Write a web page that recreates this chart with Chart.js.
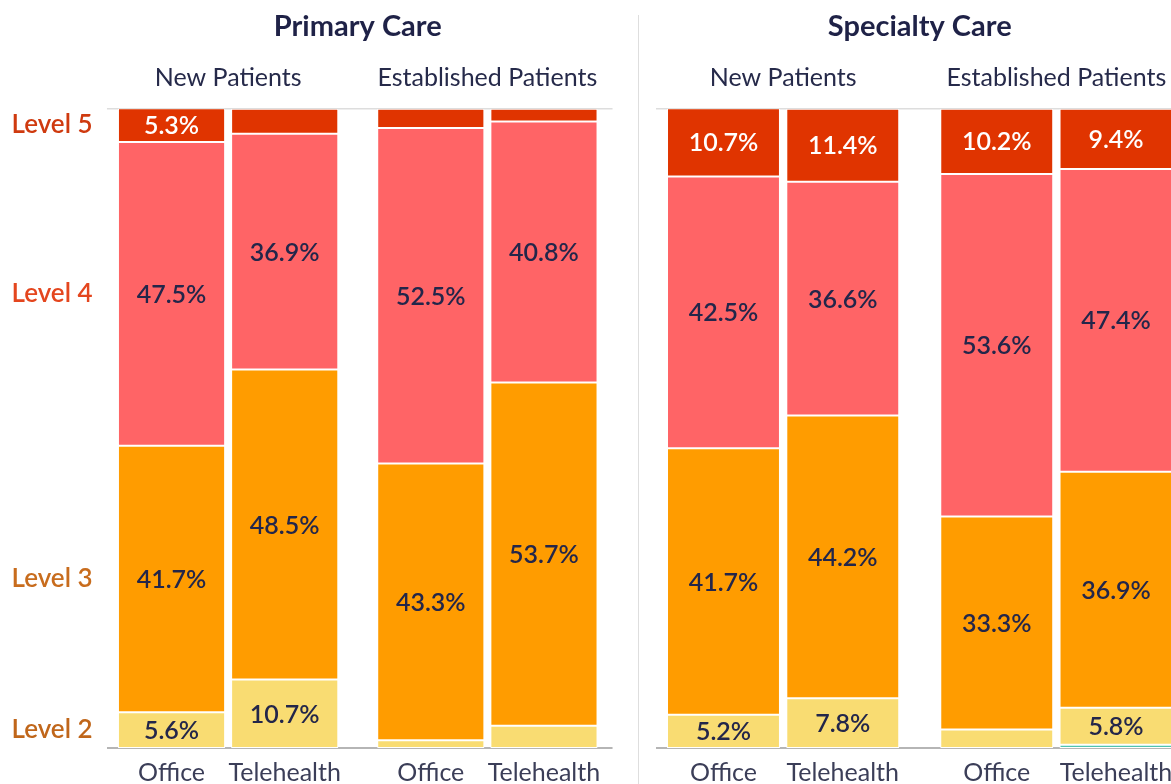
<!DOCTYPE html>
<html>
<head>
<meta charset="utf-8">
<title>E/M level mix: Primary vs Specialty Care</title>
<script src="https://cdn.jsdelivr.net/npm/chart.js@4.4.1/dist/chart.umd.min.js"></script>
<style>
  html, body { margin: 0; padding: 0; background: #fff; }
  body { width: 1171px; height: 784px; position: relative; overflow: hidden; }
  .panel { position: absolute; top: 0; height: 784px; }
  #primaryWrap { left: 0; width: 617px; }
  #specialtyWrap { left: 640px; width: 553px; }
  #divider { position: absolute; left: 638px; top: 15px; width: 1px; height: 769px; background: #dedede; }
</style>
</head>
<body>
<div id="primaryWrap" class="panel"><canvas id="primaryChart"></canvas></div>
<div id="divider"></div>
<div id="specialtyWrap" class="panel"><canvas id="specialtyChart"></canvas></div>
<script>
// values per bar, bottom to top: Level 1 .. Level 5 (percent)
const levelNames = ['Level 1', 'Level 2', 'Level 3', 'Level 4', 'Level 5'];
const groupNames = ['New Patients', 'Established Patients'];
const visitModes = ['Office', 'Telehealth'];

const primaryNewOffice = [0, 5.6, 41.7, 47.5, 5.3];
const primaryNewTele = [0, 10.7, 48.5, 36.9, 3.9];
const primaryEstOffice = [0, 1.2, 43.3, 52.5, 3.0];
const primaryEstTele = [0, 3.5, 53.7, 40.8, 2.0];

const specialtyNewOffice = [0, 5.2, 41.7, 42.5, 10.7];
const specialtyNewTele = [0, 7.8, 44.2, 36.6, 11.4];
const specialtyEstOffice = [0, 2.9, 33.3, 53.6, 10.2];
const specialtyEstTele = [0.5, 5.8, 36.9, 47.4, 9.4];

const levelColors = ['#4fc4b0', '#f9dc72', '#ff9c00', '#ff6466', '#e03400'];
const levelTextColors = ['#2a9d8f', '#c0661a', '#c86c1d', '#e4461e', '#cf3a0f'];
const darkText = '#23264a';

Chart.defaults.font.family = 'Lato, "Open Sans", sans-serif';
Chart.defaults.color = darkText;

function buildDatasets(newOffice, newTele, estOffice, estTele) {
    const sets = [];
    [[newOffice, estOffice, 'Office'], [newTele, estTele, 'Telehealth']].forEach(([n, e, mode]) => {
        levelNames.forEach((name, i) => {
            sets.push({
                label: name,
                stack: mode,
                data: [n[i], e[i]],
                backgroundColor: levelColors[i],
                borderColor: '#ffffff',
                borderWidth: 1,
                borderSkipped: false,
                categoryPercentage: 0.873,
                barPercentage: 0.947
            });
        });
    });
    return sets;
}

// percentage labels inside the segments
const segmentLabels = {
    id: 'segmentLabels',
    afterDatasetsDraw(chart) {
        const ctx = chart.ctx;
        ctx.save();
        ctx.textAlign = 'center';
        ctx.textBaseline = 'middle';
        ctx.font = '600 25px Lato, sans-serif';
        chart.data.datasets.forEach((ds, di) => {
            const meta = chart.getDatasetMeta(di);
            meta.data.forEach((bar, i) => {
                const v = ds.data[i];
                if (v < 5) return;
                ctx.fillStyle = ds.label === 'Level 5' ? '#ffffff' : darkText;
                ctx.fillText(v.toFixed(1) + '%', bar.x, (bar.y + bar.base) / 2 + 1);
            });
        });
        ctx.restore();
    }
};

// top rule and baseline, running a little past the outer bars
const frameLines = {
    id: 'frameLines',
    beforeDatasetsDraw(chart) {
        const bars = chart.getDatasetMeta(0).data.concat(
            chart.getDatasetMeta(chart.data.datasets.length - 1).data);
        const xs = bars.map(b => b.x);
        const half = bars[0].width / 2;
        const left = Math.min(...xs) - half - 11;
        const right = Math.max(...xs) + half + 15;
        const { top, bottom } = chart.chartArea;
        const ctx = chart.ctx;
        ctx.save();
        ctx.lineWidth = 1.5;
        ctx.strokeStyle = '#dddddd';
        ctx.beginPath();
        ctx.moveTo(left, top);
        ctx.lineTo(right, top);
        ctx.stroke();
        ctx.strokeStyle = '#9c9c9c';
        ctx.beginPath();
        ctx.moveTo(left, bottom);
        ctx.lineTo(right, bottom);
        ctx.stroke();
        ctx.restore();
    }
};

// Office / Telehealth under each bar
const modeLabels = {
    id: 'modeLabels',
    afterDraw(chart) {
        const ctx = chart.ctx;
        ctx.save();
        ctx.textAlign = 'center';
        ctx.textBaseline = 'middle';
        ctx.font = '25px Lato, sans-serif';
        ctx.fillStyle = '#3b3e58';
        visitModes.forEach(mode => {
            const di = chart.data.datasets.findIndex(d => d.stack === mode);
            chart.getDatasetMeta(di).data.forEach(bar => {
                ctx.fillText(mode, bar.x, chart.chartArea.bottom + 25);
            });
        });
        ctx.restore();
    }
};

function makeChart(canvasId, title, datasets, showLevels, padLeft) {
    const first = datasets.filter(d => d.stack === 'Office').map(d => d.data[0]);
    const mids = [];
    const tickNames = [];
    let acc = 0;
    first.forEach((v, i) => {
        if (v > 0) {
            mids.push(acc + v / 2);
            tickNames.push(levelNames[i]);
        }
        acc += v;
    });

    return new Chart(document.getElementById(canvasId), {
        type: 'bar',
        data: { labels: groupNames, datasets: datasets },
        options: {
            responsive: true,
            maintainAspectRatio: false,
            animation: false,
            layout: { padding: { left: padLeft, right: 0, top: 0, bottom: 36 } },
            plugins: {
                legend: { display: false },
                tooltip: { enabled: false },
                title: {
                    display: true,
                    text: title,
                    fullSize: false,
                    color: '#1f2247',
                    font: { size: 29, weight: 'bold' },
                    padding: { top: 9, bottom: 3 }
                }
            },
            scales: {
                x: {
                    stacked: true,
                    offset: true,
                    grid: { display: false, drawTicks: false },
                    border: { display: false },
                    ticks: { display: false }
                },
                xTop: {
                    type: 'category',
                    position: 'top',
                    labels: groupNames,
                    offset: true,
                    grid: { display: false, drawTicks: false },
                    border: { display: false },
                    ticks: { color: '#262a4a', font: { size: 25 }, padding: 16 }
                },
                y: {
                    stacked: true,
                    min: 0,
                    max: 100,
                    display: showLevels,
                    grid: { display: false, drawTicks: false },
                    border: { display: false },
                    afterBuildTicks: scale => {
                        scale.ticks = mids.map(v => ({ value: v }));
                    },
                    afterFit: scale => {
                        if (showLevels) scale.width = 98.5;
                    },
                    ticks: {
                        padding: 6,
                        font: { size: 26, weight: '600' },
                        color: c => levelTextColors[levelNames.indexOf(tickNames[c.index])],
                        callback: (value, index) => tickNames[index]
                    }
                }
            }
        },
        plugins: [frameLines, segmentLabels, modeLabels]
    });
}

makeChart('primaryChart', 'Primary Care',
    buildDatasets(primaryNewOffice, primaryNewTele, primaryEstOffice, primaryEstTele), true, 0);
makeChart('specialtyChart', 'Specialty Care',
    buildDatasets(specialtyNewOffice, specialtyNewTele, specialtyEstOffice, specialtyEstTele), false, 6.5);
</script>
</body>
</html>
